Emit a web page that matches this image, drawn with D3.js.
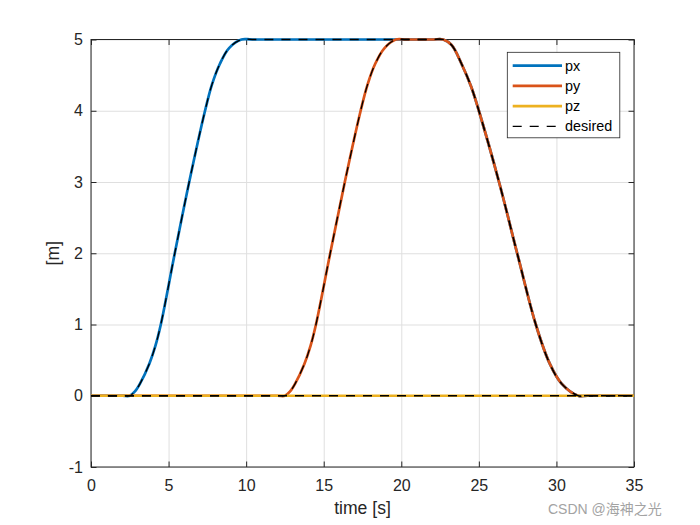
<!DOCTYPE html>
<html>
<head>
<meta charset="utf-8">
<script src="https://cdn.jsdelivr.net/npm/d3@7"></script>
<style>
   body { margin: 0; background: #fff; }
   svg { display: block; font-family: 'Liberation Sans', Arial, sans-serif; }
</style>
</head>
<body>
<div id="chart"></div>
<script>
// values (time [s], position [m])
const timePx = [0, 2.0, 2.5, 2.83, 3.16, 3.76, 4.15, 4.5, 5.4, 6.33, 7.35, 7.8, 8.31, 8.9, 9.7, 10.4, 22.0, 22.7, 23.25, 23.88, 24.5, 25.0, 26.3, 27.47, 28.67, 29.57, 30.33, 31.4, 32.0, 35];
const valuesPx = [0, 0, 0, 0.06, 0.17, 0.45, 0.7, 1, 2, 3, 4, 4.37, 4.66, 4.88, 5, 5, 5, 5, 4.92, 4.66, 4.34, 4, 3, 2, 1, 0.45, 0.17, 0, 0, 0];

const timePy = [0, 12.0, 12.5, 12.83, 13.16, 13.76, 14.15, 14.5, 15.42, 16.36, 17.38, 17.83, 18.32, 18.92, 19.65, 20.3, 22.0, 22.7, 23.25, 23.88, 24.5, 25.0, 26.3, 27.47, 28.67, 29.57, 30.33, 31.4, 32.0, 35];
const valuesPy = [0, 0, 0, 0.06, 0.17, 0.45, 0.7, 1, 2, 3, 4, 4.37, 4.66, 4.88, 5, 5, 5, 5, 4.92, 4.66, 4.34, 4, 3, 2, 1, 0.45, 0.17, 0, 0, 0];

const timePz = [0, 35];
const valuesPz = [0, 0];

const legendNames = ['px', 'py', 'pz', 'desired'];
const xTicks = [0, 5, 10, 15, 20, 25, 30, 35];
const yTicks = [-1, 0, 1, 2, 3, 4, 5];

const width = 700;
const height = 525;
const plot = { left: 91, right: 634, top: 39.5, bottom: 467 };
const ink = '#262626';
const colors = { px: '#0072BD', py: '#D95319', pz: '#EDB120' };

const svg = d3
   .select('#chart')
   .append('svg')
   .attr('width', width)
   .attr('height', height);

const xScale = d3.scaleLinear().domain([0, 35]).range([plot.left, plot.right]);
const yScale = d3.scaleLinear().domain([-1, 5]).range([plot.bottom, plot.top]);
const fmt = (d) => String(d);

// grid
svg.append('g')
   .attr('transform', `translate(0,${plot.bottom})`)
   .call(d3.axisBottom(xScale).tickValues(xTicks).tickSize(-(plot.bottom - plot.top)).tickFormat(''))
   .call((g) => g.select('.domain').remove())
   .selectAll('line')
   .attr('stroke', '#dfdfdf');
svg.append('g')
   .attr('transform', `translate(${plot.left},0)`)
   .call(d3.axisLeft(yScale).tickValues(yTicks).tickSize(-(plot.right - plot.left)).tickFormat(''))
   .call((g) => g.select('.domain').remove())
   .selectAll('line')
   .attr('stroke', '#dfdfdf');

// box
svg.append('rect')
   .attr('x', plot.left)
   .attr('y', plot.top)
   .attr('width', plot.right - plot.left)
   .attr('height', plot.bottom - plot.top)
   .attr('fill', 'none')
   .attr('stroke', ink)
   .attr('stroke-width', 1);

// axes with inward ticks on all four sides
const styleAxis = (g) => {
   g.select('.domain').remove();
   g.selectAll('line').attr('stroke', ink);
   g.selectAll('text').attr('fill', ink).style('font-size', '16px').style('font-family', 'Liberation Sans, Arial, sans-serif');
};
svg.append('g')
   .attr('transform', `translate(0,${plot.bottom})`)
   .call(d3.axisBottom(xScale).tickValues(xTicks).tickFormat(fmt).tickSize(-5.5).tickPadding(12.5))
   .call(styleAxis);
svg.append('g')
   .attr('transform', `translate(0,${plot.top})`)
   .call(d3.axisTop(xScale).tickValues(xTicks).tickSize(-5.5).tickFormat(''))
   .call(styleAxis);
svg.append('g')
   .attr('transform', `translate(${plot.left},0)`)
   .call(d3.axisLeft(yScale).tickValues(yTicks).tickFormat(fmt).tickSize(-5.5).tickPadding(8))
   .call(styleAxis);
svg.append('g')
   .attr('transform', `translate(${plot.right},0)`)
   .call(d3.axisRight(yScale).tickValues(yTicks).tickSize(-5.5).tickFormat(''))
   .call(styleAxis);

// series
const line = d3
   .line()
   .x((d) => xScale(d[0]))
   .y((d) => yScale(d[1]))
   .curve(d3.curveCatmullRom.alpha(0.5));

const series = [
   { key: 'px', points: d3.zip(timePx, valuesPx) },
   { key: 'py', points: d3.zip(timePy, valuesPy) },
   { key: 'pz', points: d3.zip(timePz, valuesPz) },
];

svg.append('g')
   .selectAll('path')
   .data(series)
   .join('path')
   .attr('d', (s) => line(s.points))
   .attr('fill', 'none')
   .attr('stroke', (s) => colors[s.key])
   .attr('stroke-width', 2.7)
   .attr('stroke-linejoin', 'round');

// desired trajectories, dashed on top
svg.append('g')
   .selectAll('path')
   .data(series)
   .join('path')
   .attr('d', (s) => line(s.points))
   .attr('fill', 'none')
   .attr('stroke', '#000')
   .attr('stroke-width', 1.3)
   .attr('stroke-dasharray', '9,8');

// axis titles
svg.append('text')
   .attr('x', (plot.left + plot.right) / 2)
   .attr('y', 514)
   .attr('text-anchor', 'middle')
   .attr('fill', ink)
   .style('font-size', '17.6px')
   .text('time [s]');
svg.append('text')
   .attr('transform', `translate(59,${(plot.top + plot.bottom) / 2}) rotate(-90)`)
   .attr('text-anchor', 'middle')
   .attr('fill', ink)
   .style('font-size', '17.6px')
   .text('[m]');

// legend
const legend = svg.append('g').attr('transform', 'translate(507.3,52.3)');
legend
   .append('rect')
   .attr('width', 112.5)
   .attr('height', 85.5)
   .attr('fill', '#fff')
   .attr('stroke', ink)
   .attr('stroke-width', 0.8);
const rows = legend
   .selectAll('.row')
   .data(legendNames)
   .join('g')
   .attr('class', 'row')
   .attr('transform', (d, i) => `translate(0,${13.4 + i * 20.2})`);
rows.append('line')
   .attr('x1', 5.4)
   .attr('x2', 54.7)
   .attr('stroke', (d) => colors[d] || '#000')
   .attr('stroke-width', (d) => (colors[d] ? 2.7 : 1.3))
   .attr('stroke-dasharray', (d) => (colors[d] ? null : '9,8'));
rows.append('text')
   .attr('x', 57.7)
   .attr('dy', '0.35em')
   .attr('fill', '#000')
   .style('font-size', '14.4px')
   .text((d) => d);

// watermark
svg.append('text')
   .attr('x', 548)
   .attr('y', 513.5)
   .attr('fill', '#a3a3a3')
   .style('font-size', '14px')
   .style('font-family', "'Liberation Sans', 'Noto Sans CJK SC', sans-serif")
   .text('CSDN @海神之光');
</script>
</body>
</html>
